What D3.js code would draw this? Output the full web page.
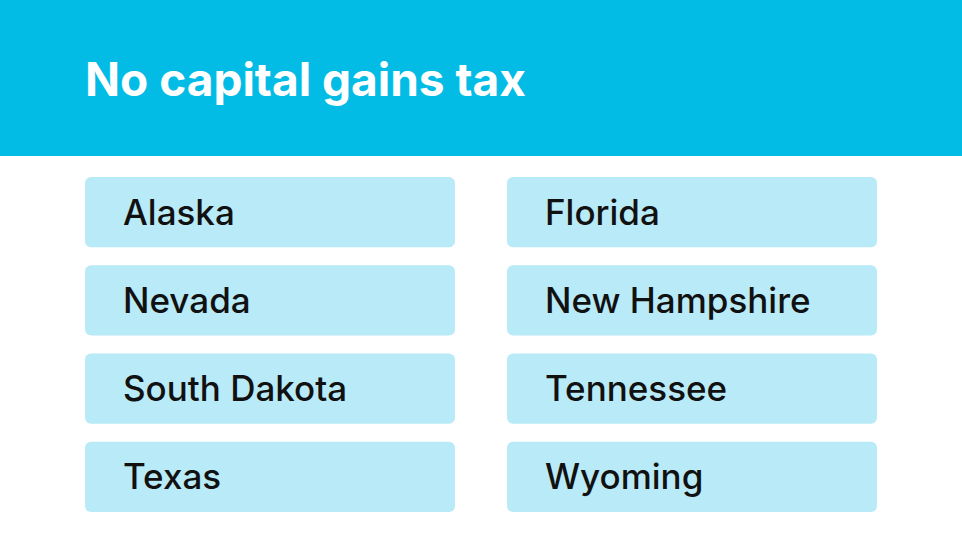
<!DOCTYPE html>
<html><head><meta charset="utf-8">
<script src="https://cdn.jsdelivr.net/npm/d3@7"></script>
<style>body{margin:0;background:#fff}</style></head>
<body><svg id="c" width="962" height="550"></svg>
<script>
const title = "No capital gains tax";
const leftColumn = ["Alaska","Nevada","South Dakota","Texas"];
const rightColumn = ["Florida","New Hampshire","Tennessee","Wyoming"];
const columns = ["left","right"];

const svg = d3.select("#c");
svg.append("rect").attr("x",0).attr("y",0).attr("width",962).attr("height",156).attr("fill","#03BCE6");
svg.append("text").attr("x",85).attr("y",96).attr("fill","#fff")
  .attr("font-family","Inter, Lato, sans-serif").attr("font-weight",700).attr("font-size",46)
  .text(title);

const x = d3.scaleBand().domain(columns).range([85,877]).paddingInner(0.1232);
const y = d3.scaleBand().domain(d3.range(4)).range([177,512]).paddingInner(18/88);
const data = [];
leftColumn.forEach((s,i)=>data.push({col:"left",row:i,name:s}));
rightColumn.forEach((s,i)=>data.push({col:"right",row:i,name:s}));

const g = svg.selectAll("g.cell").data(data).join("g").attr("class","cell");
g.append("rect").attr("x",d=>x(d.col)).attr("y",d=>y(d.row))
  .attr("width",x.bandwidth()).attr("height",y.bandwidth())
  .attr("rx",6).attr("fill","#B8EAF7");
g.append("text").attr("x",d=>x(d.col)+38).attr("y",d=>y(d.row)+y.bandwidth()/2)
  .attr("dy","0.36em").attr("fill","#111")
  .attr("font-family","Inter, Lato, sans-serif").attr("font-weight",500).attr("font-size",35)
  .text(d=>d.name);
</script></body></html>
